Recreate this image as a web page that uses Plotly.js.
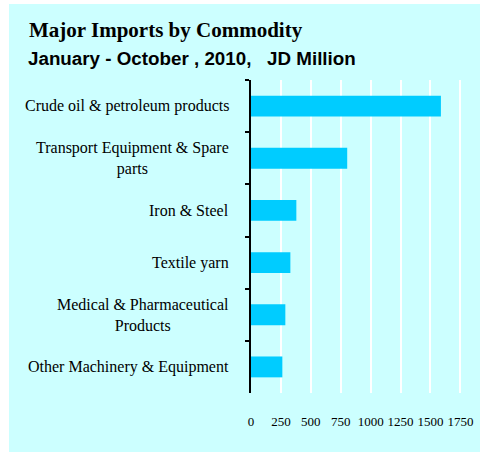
<!DOCTYPE html>
<html>
<head>
<meta charset="utf-8">
<script src="https://cdn.plot.ly/plotly-3.0.1.min.js"></script>
<style>
html,body{margin:0;padding:0;background:#ffffff;}
#chart{position:absolute;left:9px;top:4px;width:471px;height:448px;}
</style>
</head>
<body>
<div id="chart"></div>
<script>
var categories = ["Crude oil & petroleum products", "Transport Equipment & Spare<br>parts", "Iron & Steel", "Textile yarn", "Medical & Pharmaceutical<br>Products", "Other Machinery & Equipment"];
var values = [1587, 804, 379, 329, 287, 262];
var tickValues = [0, 250, 500, 750, 1000, 1250, 1500, 1750];
var titleText = "Major Imports by Commodity";
var subtitleText = "January - October , 2010,   JD Million";

var trace = {
  type: "bar",
  orientation: "h",
  y: categories,
  x: values,
  width: 0.4,
  marker: {color: "#00CCFF"},
  hoverinfo: "x+y"
};

var titleX = (-241.5 + 17) / 213.6;
var annotations = [
  {text: "<b>" + titleText + "</b>", xref: "paper", yref: "paper", x: titleX, y: 1, xanchor: "left", yanchor: "bottom", yshift: 36, showarrow: false,
   font: {family: "Liberation Serif, Times New Roman, serif", size: 21, color: "#000000"}},
  {text: "<b>" + subtitleText + "</b>", xref: "paper", yref: "paper", x: (-241.5 + 16) / 213.6, y: 1, xanchor: "left", yanchor: "bottom", yshift: 9, showarrow: false,
   font: {family: "Liberation Sans, Arial, sans-serif", size: 18.8, color: "#000000"}}
];
categories.forEach(function (c) {
  annotations.push({text: c, xref: "paper", yref: "y", x: 0, y: c, xanchor: "right", yanchor: "middle", xshift: -20,
    align: "center", showarrow: false,
    font: {family: "Liberation Serif, Times New Roman, serif", size: 16, color: "#000000"}});
});

var layout = {
  width: 471,
  height: 448,
  paper_bgcolor: "#CCFFFF",
  plot_bgcolor: "#CCFFFF",
  margin: {l: 241.5, r: 16, t: 76, b: 59, pad: 0},
  showlegend: false,
  xaxis: {
    range: [0, 1780],
    tickvals: tickValues,
    ticktext: tickValues.map(String),
    showgrid: true,
    gridcolor: "#ffffff",
    gridwidth: 2,
    zeroline: false,
    showline: false,
    ticks: "",
    ticklabelstandoff: 19,
    tickfont: {family: "Liberation Serif, Times New Roman, serif", size: 13, color: "#000000"}
  },
  yaxis: {
    type: "category",
    autorange: "reversed",
    showticklabels: false,
    showgrid: false,
    zeroline: false,
    showline: true,
    linecolor: "#000000",
    linewidth: 2,
    ticks: "outside",
    tickson: "boundaries",
    ticklen: 4,
    tickwidth: 2,
    tickcolor: "#000000"
  },
  annotations: annotations
};

Plotly.newPlot("chart", [trace], layout, {displayModeBar: false, staticPlot: true});
</script>
</body>
</html>
